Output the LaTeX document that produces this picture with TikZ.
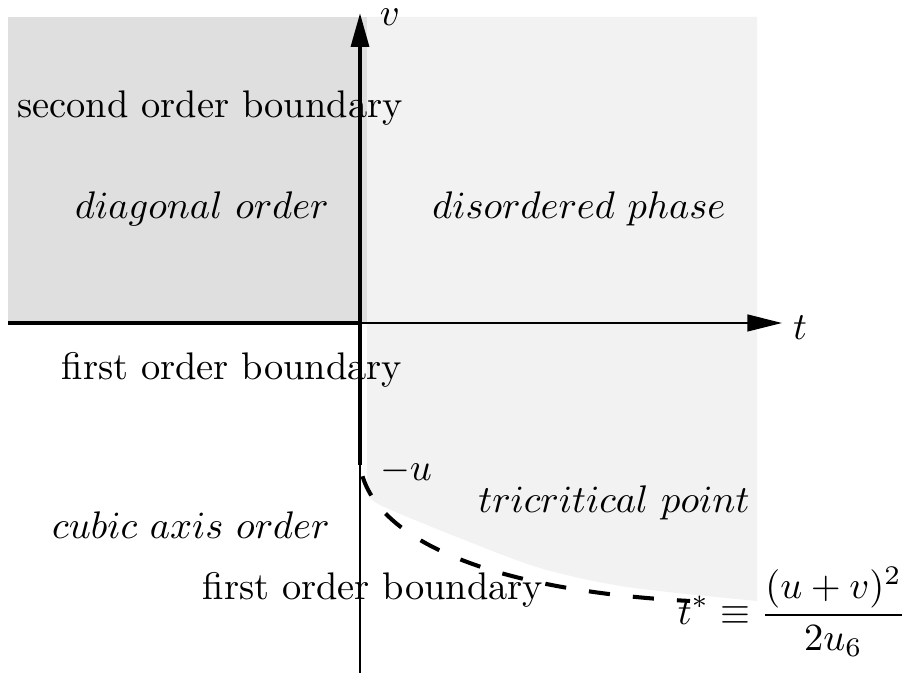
\documentclass[tikz,border=0pt]{standalone}
\usetikzlibrary{arrows.meta}
\definecolor{darkfill}{gray}{0.875}
\definecolor{lightfill}{gray}{0.95}
\begin{document}
\begin{tikzpicture}[x=0.26pt,y=-0.26pt,
  thickline/.style={line width=1.05pt},
  thinline/.style={line width=0.35pt},
  lbl/.style={inner sep=0pt},
  vtip/.style={-{Triangle[length=8.8pt,width=4.6pt]}},
  htip/.style={-{Triangle[length=9pt,width=4.4pt]}},
  tridash/.style={line width=1.05pt,dash pattern=on 5.5pt off 6pt,dash phase=8.5pt}]
\useasboundingbox (0,0) rectangle (910,673);
% regions
\fill[darkfill] (8,17) rectangle (367,322);
\fill[lightfill] (367,17) -- (757,17) -- plot[smooth] coordinates {(757,601) (627,587) (540,568) (457,537) (380,505) (367,492)} -- cycle;
% axes
\coordinate (O) at (360,323);
\coordinate (vlow) at (360,465);
\coordinate (vtop) at (360,13);
\coordinate (bottom) at (360,673);
\coordinate (tleft) at (8,323);
\coordinate (tright) at (782,323);
\coordinate (tend) at (690,601);
\draw[thinline] (vlow) -- (bottom);
\draw[thinline,htip] (O) -- (tright);
\draw[thickline] (tleft) -- (O);
\draw[thickline,vtip] (vlow) -- (vtop);
\draw[tridash] (vlow) .. controls (370,535) and (480,590) .. (tend);
% labels
\node[lbl] (second) at (210,108) {second order boundary};
\node[lbl] (diag) at (202,209) {$diagonal\ order$};
\node[lbl] (dis) at (579,209) {$disordered\ phase$};
\node[lbl] (first1) at (232,370) {first order boundary};
\node[lbl] (cubic) at (191,525) {$cubic\ axis\ order$};
\node[lbl] (tric) at (614,503) {$tricritical\ point$};
\node[lbl] (first2) at (373,590) {first order boundary};
\node[lbl] (tstar) at (792,612) {$\displaystyle t^*\equiv\frac{(u+v)^2}{2u_6}$};
\node[lbl] (vl) at (390,17) {$v$};
\node[lbl] (tl) at (800,328) {$t$};
\node[lbl] (ul) at (406,471) {$-u$};
\end{tikzpicture}
\end{document}
